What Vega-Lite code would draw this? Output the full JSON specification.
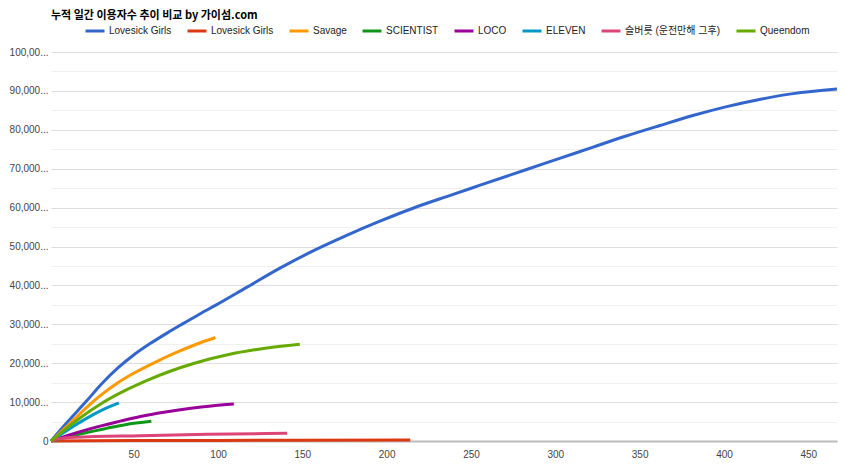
{
  "$schema": "https://vega.github.io/schema/vega-lite/v6.json",
  "width": 786,
  "height": 389,
  "autosize": {"type": "none"},
  "padding": {"left": 51, "top": 52, "right": 13, "bottom": 33},
  "background": "white",
  "title": {
    "text": "누적 일간 이용자수 추이 비교 by 가이섬.com",
    "anchor": "start",
    "frame": "group",
    "font": "Noto Sans CJK KR",
    "fontSize": 11,
    "fontWeight": "bold",
    "color": "#000000",
    "offset": -1
  },
  "config": {
    "view": {"stroke": null},
    "font": "Liberation Sans"
  },
  "data": {
    "values": [
      {"s": "Lovesick Girls", "day": 1, "users": 0},
      {"s": "Lovesick Girls", "day": 11, "users": 5000},
      {"s": "Lovesick Girls", "day": 21.5, "users": 10000},
      {"s": "Lovesick Girls", "day": 31.5, "users": 14900},
      {"s": "Lovesick Girls", "day": 41, "users": 18900},
      {"s": "Lovesick Girls", "day": 50, "users": 22100},
      {"s": "Lovesick Girls", "day": 60, "users": 25100},
      {"s": "Lovesick Girls", "day": 70, "users": 27800},
      {"s": "Lovesick Girls", "day": 79, "users": 30100},
      {"s": "Lovesick Girls", "day": 89, "users": 32600},
      {"s": "Lovesick Girls", "day": 99, "users": 35000},
      {"s": "Lovesick Girls", "day": 117, "users": 39500},
      {"s": "Lovesick Girls", "day": 137, "users": 44500},
      {"s": "Lovesick Girls", "day": 157, "users": 49000},
      {"s": "Lovesick Girls", "day": 176, "users": 52800},
      {"s": "Lovesick Girls", "day": 196, "users": 56500},
      {"s": "Lovesick Girls", "day": 216, "users": 59900},
      {"s": "Lovesick Girls", "day": 236, "users": 62900},
      {"s": "Lovesick Girls", "day": 255, "users": 65700},
      {"s": "Lovesick Girls", "day": 283, "users": 69800},
      {"s": "Lovesick Girls", "day": 303, "users": 72700},
      {"s": "Lovesick Girls", "day": 322, "users": 75500},
      {"s": "Lovesick Girls", "day": 342, "users": 78400},
      {"s": "Lovesick Girls", "day": 362, "users": 81100},
      {"s": "Lovesick Girls", "day": 381, "users": 83600},
      {"s": "Lovesick Girls", "day": 401, "users": 85900},
      {"s": "Lovesick Girls", "day": 421, "users": 87800},
      {"s": "Lovesick Girls", "day": 441, "users": 89300},
      {"s": "Lovesick Girls", "day": 467, "users": 90500},
      {"s": "Lovesick Girls (2)", "day": 1, "users": 0},
      {"s": "Lovesick Girls (2)", "day": 50, "users": 100},
      {"s": "Lovesick Girls (2)", "day": 100, "users": 150},
      {"s": "Lovesick Girls (2)", "day": 150, "users": 200},
      {"s": "Lovesick Girls (2)", "day": 214, "users": 250},
      {"s": "Savage", "day": 1, "users": 0},
      {"s": "Savage", "day": 13.4, "users": 5000},
      {"s": "Savage", "day": 25.6, "users": 10000},
      {"s": "Savage", "day": 30, "users": 11600},
      {"s": "Savage", "day": 40, "users": 14800},
      {"s": "Savage", "day": 50, "users": 17400},
      {"s": "Savage", "day": 63, "users": 20300},
      {"s": "Savage", "day": 75, "users": 22700},
      {"s": "Savage", "day": 88, "users": 25000},
      {"s": "Savage", "day": 98.5, "users": 26600},
      {"s": "SCIENTIST", "day": 1, "users": 0},
      {"s": "SCIENTIST", "day": 15, "users": 1500},
      {"s": "SCIENTIST", "day": 34, "users": 3250},
      {"s": "SCIENTIST", "day": 45, "users": 4200},
      {"s": "SCIENTIST", "day": 60.5, "users": 5050},
      {"s": "LOCO", "day": 1, "users": 0},
      {"s": "LOCO", "day": 10, "users": 1300},
      {"s": "LOCO", "day": 25, "users": 3250},
      {"s": "LOCO", "day": 40, "users": 4900},
      {"s": "LOCO", "day": 54, "users": 6300},
      {"s": "LOCO", "day": 68, "users": 7400},
      {"s": "LOCO", "day": 84, "users": 8400},
      {"s": "LOCO", "day": 96, "users": 9000},
      {"s": "LOCO", "day": 109.4, "users": 9500},
      {"s": "ELEVEN", "day": 1, "users": 0},
      {"s": "ELEVEN", "day": 10, "users": 2600},
      {"s": "ELEVEN", "day": 20, "users": 5300},
      {"s": "ELEVEN", "day": 30, "users": 7700},
      {"s": "ELEVEN", "day": 41.3, "users": 9800},
      {"s": "슬버릇 (운전만해 그후)", "day": 1, "users": 0},
      {"s": "슬버릇 (운전만해 그후)", "day": 5, "users": 500},
      {"s": "슬버릇 (운전만해 그후)", "day": 15, "users": 950},
      {"s": "슬버릇 (운전만해 그후)", "day": 54, "users": 1370},
      {"s": "슬버릇 (운전만해 그후)", "day": 94, "users": 1720},
      {"s": "슬버릇 (운전만해 그후)", "day": 141, "users": 1970},
      {"s": "Queendom", "day": 1, "users": 0},
      {"s": "Queendom", "day": 15, "users": 4900},
      {"s": "Queendom", "day": 30, "users": 9400},
      {"s": "Queendom", "day": 45, "users": 13000},
      {"s": "Queendom", "day": 58, "users": 15600},
      {"s": "Queendom", "day": 72, "users": 18000},
      {"s": "Queendom", "day": 86, "users": 20000},
      {"s": "Queendom", "day": 107, "users": 22300},
      {"s": "Queendom", "day": 127, "users": 23800},
      {"s": "Queendom", "day": 148.5, "users": 24900}
    ]
  },
  "mark": {"type": "line", "strokeWidth": 3, "interpolate": "monotone"},
  "encoding": {
    "x": {
      "field": "day",
      "type": "quantitative",
      "scale": {"domain": [1, 467], "nice": false, "zero": false},
      "axis": {
        "title": null,
        "values": [50, 100, 150, 200, 250, 300, 350, 400, 450],
        "grid": false,
        "ticks": false,
        "domainColor": "#bbbbbb",
        "domainWidth": 2,
        "labelFontSize": 10,
        "labelColor": "#444444",
        "labelPadding": 8,
        "labelFont": "Liberation Sans"
      }
    },
    "y": {
      "field": "users",
      "type": "quantitative",
      "scale": {"domain": [0, 100000], "nice": false},
      "axis": {
        "title": null,
        "values": [0, 5000, 10000, 15000, 20000, 25000, 30000, 35000, 40000, 45000, 50000, 55000, 60000, 65000, 70000, 75000, 80000, 85000, 90000, 95000, 100000],
        "labelExpr": "datum.value % 10000 !== 0 ? '' : datum.value === 0 ? '0' : datum.value === 100000 ? '100,00...' : format(datum.value, ',') + '...'",
        "gridColor": {"condition": {"test": "datum.value % 10000 === 0", "value": "#dddddd"}, "value": "#f0f0f0"},
        "ticks": false,
        "domain": false,
        "labelFontSize": 10,
        "labelColor": "#444444",
        "labelPadding": 3,
        "labelFont": "Liberation Sans"
      }
    },
    "color": {
      "field": "s",
      "type": "nominal",
      "sort": null,
      "scale": {
        "domain": ["Lovesick Girls", "Lovesick Girls (2)", "Savage", "SCIENTIST", "LOCO", "ELEVEN", "슬버릇 (운전만해 그후)", "Queendom"],
        "range": ["#3366cc", "#dc3912", "#ff9900", "#109618", "#990099", "#0099c6", "#dd4477", "#66aa00"]
      },
      "legend": {
        "title": null,
        "orient": "none",
        "legendX": 33,
        "legendY": -32,
        "direction": "horizontal",
        "columns": 8,
        "columnPadding": 9,
        "symbolType": "stroke",
        "symbolSize": 361,
        "symbolStrokeWidth": 3,
        "labelOffset": 3,
        "labelFontSize": 10,
        "labelColor": "#222222",
        "labelFont": "Liberation Sans, Noto Sans CJK KR",
        "labelExpr": "replace(datum.label, ' (2)', '')"
      }
    }
  }
}
